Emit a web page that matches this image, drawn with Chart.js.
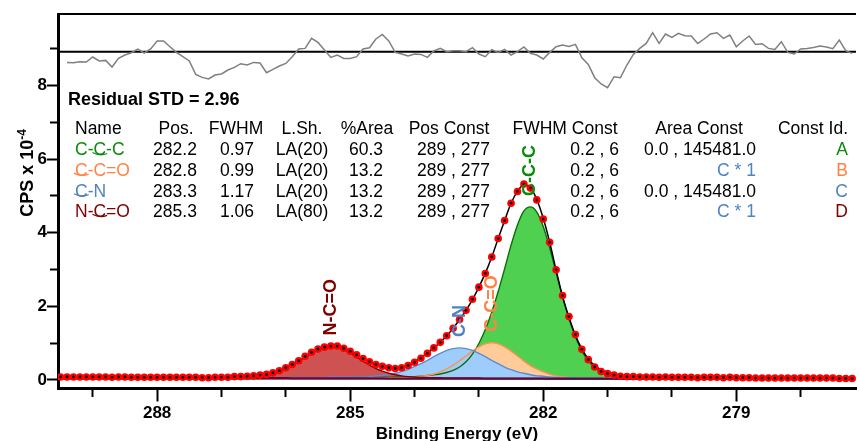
<!DOCTYPE html>
<html>
<head>
<meta charset="utf-8">
<script src="https://cdn.jsdelivr.net/npm/chart.js@4.4.1/dist/chart.umd.min.js"></script>
<style>
  html, body { margin: 0; padding: 0; background: #fff; }
  canvas { display: block; }
</style>
</head>
<body>
<canvas id="xps" width="860" height="441"></canvas>
<script>
// binding energy of every channel, eV
const energy = [
  289.5,289.4,289.3,289.2,289.1,289.0,288.9,288.8,288.7,288.6,
  288.5,288.4,288.3,288.2,288.1,288.0,287.9,287.8,287.7,287.6,
  287.5,287.4,287.3,287.2,287.1,287.0,286.9,286.8,286.7,286.6,
  286.5,286.4,286.3,286.2,286.1,286.0,285.9,285.8,285.7,285.6,
  285.5,285.4,285.3,285.2,285.1,285.0,284.9,284.8,284.7,284.6,
  284.5,284.4,284.3,284.2,284.1,284.0,283.9,283.8,283.7,283.6,
  283.5,283.4,283.3,283.2,283.1,283.0,282.9,282.8,282.7,282.6,
  282.5,282.4,282.3,282.2,282.1,282.0,281.9,281.8,281.7,281.6,
  281.5,281.4,281.3,281.2,281.1,281.0,280.9,280.8,280.7,280.6,
  280.5,280.4,280.3,280.2,280.1,280.0,279.9,279.8,279.7,279.6,
  279.5,279.4,279.3,279.2,279.1,279.0,278.9,278.8,278.7,278.6,
  278.5,278.4,278.3,278.2,278.1,278.0,277.9,277.8,277.7,277.6,
  277.5,277.4,277.3,277.2
];

// CPS x 10^-4
const counts = [
  .08,.08,.08,.08,.08,.08,.08,.08,.07,.08,
  .08,.07,.07,.07,.07,.07,.07,.07,.07,.07,
  .07,.07,.06,.06,.07,.07,.07,.09,.09,.10,
  .11,.13,.15,.19,.25,.33,.42,.52,.64,.75,
  .84,.89,.92,.92,.86,.78,.68,.58,.49,.42,
  .37,.33,.31,.33,.39,.48,.59,.72,.87,1.02,
  1.20,1.40,1.64,1.89,2.19,2.52,2.89,3.34,3.84,4.33,
  4.80,5.12,5.32,5.21,4.89,4.37,3.74,2.99,2.29,1.72,
  1.23,.83,.55,.35,.23,.17,.13,.10,.09,.09,
  .08,.08,.08,.07,.08,.07,.07,.07,.07,.06,
  .07,.07,.07,.06,.07,.06,.06,.06,.05,.05,
  .05,.05,.05,.05,.05,.05,.05,.05,.05,.05,
  .05,.04,.04,.04
];

const envelope = [
  .07,.07,.07,.07,.07,.07,.07,.07,.07,.07,
  .07,.07,.07,.07,.07,.07,.07,.07,.07,.07,
  .07,.08,.08,.08,.08,.08,.08,.09,.09,.10,
  .11,.13,.16,.20,.26,.33,.42,.52,.63,.74,
  .83,.89,.92,.92,.87,.79,.69,.58,.48,.40,
  .35,.32,.31,.34,.40,.49,.60,.73,.87,1.02,
  1.20,1.40,1.64,1.89,2.18,2.52,2.90,3.34,3.84,4.33,
  4.80,5.12,5.30,5.22,4.90,4.39,3.74,2.98,2.27,1.70,
  1.21,.84,.57,.39,.27,.20,.16,.12,.10,.09,
  .08,.07,.07,.07,.07,.07,.06,.06,.06,.06,
  .06,.06,.06,.06,.06,.06,.05,.05,.05,.05,
  .05,.05,.05,.05,.05,.05,.04,.04,.04,.04,
  .04,.04,.04,.04
];

const background = [
  .05,.05,.05,.05,.05,.05,.05,.05,.05,.05,
  .05,.05,.05,.05,.05,.05,.05,.05,.05,.05,
  .05,.05,.05,.05,.05,.05,.05,.05,.05,.05,
  .05,.05,.05,.05,.05,.05,.045,.045,.045,.045,
  .045,.045,.045,.045,.045,.045,.045,.045,.045,.045,
  .045,.04,.04,.04,.04,.04,.04,.04,.04,.04,
  .04,.04,.04,.04,.04,.04,.035,.035,.035,.035,
  .035,.035,.035,.035,.035,.035,.03,.03,.03,.03,
  .03,.03,.03,.03,.03,.03,.03,.03,.03,.03,
  .03,.03,.03,.03,.03,.03,.03,.03,.03,.03,
  .03,.03,.03,.03,.03,.03,.03,.03,.03,.03,
  .03,.03,.03,.03,.03,.03,.03,.03,.03,.03,
  .03,.03,.03,.03
];

const fitCCC = [
  .05,.05,.05,.05,.05,.05,.05,.05,.05,.05,
  .05,.05,.05,.05,.05,.05,.05,.05,.05,.05,
  .05,.05,.05,.05,.05,.05,.05,.05,.05,.05,
  .05,.06,.06,.06,.06,.06,.06,.06,.06,.06,
  .06,.06,.06,.06,.06,.06,.07,.07,.07,.07,
  .07,.07,.08,.08,.09,.09,.10,.12,.14,.16,
  .20,.26,.35,.49,.70,.99,1.37,1.84,2.40,3.02,
  3.66,4.21,4.59,4.70,4.56,4.17,3.59,2.92,2.26,1.67,
  1.17,.79,.52,.34,.22,.16,.12,.09,.08,.07,
  .07,.06,.06,.06,.05,.05,.05,.05,.05,.05,
  .05,.05,.05,.04,.04,.04,.04,.04,.04,.04,
  .04,.04,.04,.04,.04,.04,.03,.03,.03,.03,
  .03,.03,.03,.03
];

const fitCCO = [
  .05,.05,.05,.05,.05,.05,.05,.05,.05,.05,
  .05,.05,.05,.05,.05,.05,.05,.05,.05,.05,
  .05,.05,.05,.05,.05,.05,.05,.05,.05,.05,
  .05,.05,.05,.05,.05,.05,.05,.05,.05,.05,
  .05,.05,.05,.05,.05,.06,.06,.06,.06,.06,
  .06,.06,.06,.06,.07,.08,.10,.12,.16,.22,
  .30,.40,.52,.65,.78,.90,.98,1.01,.98,.90,
  .78,.65,.51,.39,.29,.22,.15,.11,.09,.07,
  .06,.05,.05,.05,.05,.04,.04,.04,.04,.04,
  .04,.04,.04,.04,.04,.04,.04,.04,.04,.04,
  .04,.03,.03,.03,.03,.03,.03,.03,.03,.03,
  .03,.03,.03,.03,.03,.03,.03,.03,.03,.03,
  .03,.03,.03,.03
];

const fitCN = [
  .05,.05,.05,.05,.05,.05,.05,.05,.05,.05,
  .05,.05,.05,.05,.05,.05,.05,.05,.05,.05,
  .05,.05,.05,.05,.05,.05,.05,.06,.06,.06,
  .06,.06,.06,.06,.06,.06,.06,.06,.06,.06,
  .06,.06,.07,.07,.07,.07,.08,.08,.09,.11,
  .12,.15,.18,.23,.29,.36,.44,.53,.63,.72,
  .80,.85,.87,.85,.80,.72,.63,.53,.44,.35,
  .28,.22,.18,.14,.11,.10,.08,.07,.06,.06,
  .06,.05,.05,.05,.05,.04,.04,.04,.04,.04,
  .04,.04,.04,.04,.04,.04,.04,.04,.04,.04,
  .04,.04,.04,.03,.03,.03,.03,.03,.03,.03,
  .03,.03,.03,.03,.03,.03,.03,.03,.03,.03,
  .03,.03,.03,.03
];

const fitNCO = [
  .05,.05,.05,.05,.05,.05,.05,.05,.05,.05,
  .05,.05,.05,.06,.06,.06,.06,.06,.06,.06,
  .06,.06,.06,.06,.06,.07,.07,.07,.08,.09,
  .10,.12,.15,.19,.24,.32,.40,.51,.62,.73,
  .82,.88,.91,.88,.82,.73,.62,.51,.40,.31,
  .24,.18,.14,.11,.09,.08,.07,.06,.06,.06,
  .05,.05,.05,.05,.05,.05,.04,.04,.04,.04,
  .04,.04,.04,.04,.04,.04,.04,.04,.04,.04,
  .04,.04,.04,.04,.04,.04,.03,.03,.03,.03,
  .03,.03,.03,.03,.03,.03,.03,.03,.03,.03,
  .03,.03,.03,.03,.03,.03,.03,.03,.03,.03,
  .03,.03,.03,.03,.03,.03,.03,.03,.03,.03,
  .03,.03,.03,.03
];

// residual trace shown in the top strip
const residual = [
  null,-1.07,-1.1,-1.0,-1.03,-0.53,-0.93,-0.87,-1.53,-0.67,
  -0.33,-0.1,0.27,-0.13,0.27,1.07,1.07,0.5,-0.07,-0.5,
  -0.93,-2.27,-2.57,-2.73,-2.33,-2.23,-1.83,-1.57,-1.2,-1.33,
  -1.07,-1.13,-2.1,-1.77,-1.43,-1.17,-0.5,0.27,0.33,1.33,
  0.93,0.17,-0.57,-0.33,-0.67,-0.67,-0.5,0.27,0.4,1.27,
  1.73,1.07,-0.07,-0.23,-0.43,-0.23,-0.27,-0.57,0.07,0.33,
  0,0.1,0.1,0,0.4,-0.23,-0.5,0.2,-0.07,0.23,
  -0.33,0,0.47,-0.17,-0.33,-0.73,-0.07,0.5,0.67,0.53,
  0.73,-0.6,-1.27,-2.6,-3.23,-3.6,-2.5,-2.6,-1.33,-0.27,
  0.33,0.83,1.9,0.83,1.77,1.43,1.83,1.6,1.57,0.83,
  1.27,1.77,1.9,1.33,1.67,0.5,1.07,1.57,0.73,0.8,
  0.33,0.23,1.0,-0.07,-0.23,0.27,0.33,0.43,0.57,0.47,
  0.3,1.17,0.1,-0.17
];

const xTickLabels = [288, 285, 282, 279];
const yTickLabels = [0, 2, 4, 6, 8];

// peak table
const peakNames = ['C-C-C', 'C-C=O', 'C-N', 'N-C=O'];
const peakPos = ['282.2', '282.8', '283.3', '285.3'];
const peakFwhm = ['0.97', '0.99', '1.17', '1.06'];
const lineShape = ['LA(20)', 'LA(20)', 'LA(20)', 'LA(80)'];
const areaPct = ['60.3', '13.2', '13.2', '13.2'];
const posConst = ['289 , 277', '289 , 277', '289 , 277', '289 , 277'];
const fwhmConst = ['0.2 , 6', '0.2 , 6', '0.2 , 6', '0.2 , 6'];
const areaConst = ['0.0 , 145481.0', 'C * 1', '0.0 , 145481.0', 'C * 1'];
const constId = ['A', 'B', 'C', 'D'];
const residualStd = '2.96';

const fits = [fitCCC, fitCCO, fitCN, fitNCO];
const textColors = ['#0c8a0c', '#ff8444', '#4f83c2', '#800000'];

const FONT = '"Liberation Sans", Arial, sans-serif';
Chart.defaults.font.family = FONT;
Chart.defaults.color = '#000';

const pts = arr => energy.map((e, i) => ({ x: e, y: arr[i] }));
const xMin = 277.14, xMax = 289.54;

const fitSet = (label, arr, line, fillColor) => ({
  label, data: pts(arr), borderColor: line, backgroundColor: fillColor,
  borderWidth: 1.4, pointRadius: 0, fill: 'origin', cubicInterpolationMode: 'monotone'
});

const overlay = {
  id: 'overlay',
  afterDatasetsDraw(chart) {
    const { ctx, chartArea: a, scales: { x, y } } = chart;
    ctx.save();

    // frame on top
    ctx.strokeStyle = '#000';
    ctx.lineWidth = 2;
    ctx.beginPath();
    ctx.moveTo(a.left, a.top);
    ctx.lineTo(a.right, a.top);
    ctx.stroke();

    ctx.textBaseline = 'middle';
    ctx.fillStyle = '#000';
    ctx.font = 'bold 18px ' + FONT;
    ctx.textAlign = 'left';
    ctx.fillText('Residual STD = ' + residualStd, 68, 100);

    // table
    ctx.font = '17.5px ' + FONT;
    const head = [
      ['Name', 75, 'left'], ['Pos.', 176, 'center'], ['FWHM', 236, 'center'],
      ['L.Sh.', 302, 'center'], ['%Area', 367, 'center'], ['Pos Const', 449, 'center'],
      ['FWHM Const', 565, 'center'], ['Area Const', 699, 'center'], ['Const Id.', 813, 'center']
    ];
    head.forEach(([t, hx, al]) => { ctx.textAlign = al; ctx.fillText(t, hx, 129); });

    const markIdx = [2, 0, 0, 2];
    peakNames.forEach((name, r) => {
      const ry = 150.5 + r * 20.6;
      ctx.fillStyle = textColors[r];
      ctx.textAlign = 'left';
      ctx.fillText(name, 75, ry);
      const x0 = 75 + ctx.measureText(name.slice(0, markIdx[r])).width;
      const cw = ctx.measureText(name[markIdx[r]]).width;
      ctx.strokeStyle = textColors[r];
      ctx.lineWidth = 1.3;
      ctx.beginPath();
      ctx.moveTo(x0 - 1, ry + 2);
      ctx.quadraticCurveTo(x0 + cw / 2, ry + 6, x0 + cw + 1, ry + 3);
      ctx.stroke();

      ctx.fillStyle = '#000';
      ctx.textAlign = 'center';
      ctx.fillText(peakPos[r], 175, ry);
      ctx.fillText(peakFwhm[r], 237, ry);
      ctx.fillText(lineShape[r], 302, ry);
      ctx.fillText(areaPct[r], 366, ry);
      ctx.textAlign = 'right';
      ctx.fillText(posConst[r], 490, ry);
      ctx.fillText(fwhmConst[r], 619, ry);
      ctx.fillStyle = areaConst[r].startsWith('C') ? textColors[2] : '#000';
      ctx.fillText(areaConst[r], 756, ry);
      ctx.fillStyle = textColors[r];
      ctx.fillText(constId[r], 848, ry);
    });

    // peak labels above each component
    ctx.font = 'bold 18px ' + FONT;
    ctx.textAlign = 'left';
    peakNames.forEach((name, k) => {
      const px = x.getPixelForValue(parseFloat(peakPos[k]));
      const top = y.getPixelForValue(Math.max(...fits[k]));
      ctx.save();
      ctx.translate(px, top - 11);
      ctx.rotate(-Math.PI / 2);
      ctx.fillStyle = textColors[k];
      ctx.fillText(name, 0, 0);
      ctx.restore();
    });

    // y title with superscript
    ctx.save();
    ctx.translate(33, 173);
    ctx.rotate(-Math.PI / 2);
    ctx.fillStyle = '#000';
    ctx.textBaseline = 'alphabetic';
    ctx.textAlign = 'left';
    ctx.font = 'bold 18px ' + FONT;
    const main = 'CPS x 10';
    const w1 = ctx.measureText(main).width;
    ctx.font = 'bold 12px ' + FONT;
    const w2 = ctx.measureText('-4').width;
    const s = -(w1 + w2) / 2;
    ctx.font = 'bold 18px ' + FONT;
    ctx.fillText(main, s, 0);
    ctx.font = 'bold 12px ' + FONT;
    ctx.fillText('-4', s + w1, -7);
    ctx.restore();

    ctx.restore();
  }
};

new Chart(document.getElementById('xps'), {
  type: 'line',
  data: {
    datasets: [
      { label: 'core', data: pts(counts), showLine: false, pointRadius: 1.4,
        pointBackgroundColor: '#000', pointBorderWidth: 0 },
      { label: 'counts', data: pts(counts), showLine: false, pointRadius: 3.8,
        pointBackgroundColor: '#ff0000', pointBorderWidth: 0 },
      { label: 'envelope', data: pts(envelope), borderColor: '#000', borderWidth: 1.5,
        pointRadius: 0, fill: false, cubicInterpolationMode: 'monotone' },
      { label: 'background', data: pts(background), borderColor: '#4b104b', borderWidth: 2,
        pointRadius: 0, fill: false },
      fitSet('N-C=O', fitNCO, '#800000', '#cf5252'),
      fitSet('C-N', fitCN, '#5a8cd0', '#9fcdfb'),
      fitSet('C-C=O', fitCCO, '#ff9252', '#ffcc99'),
      fitSet('C-C-C', fitCCC, '#0b6e0b', '#50d050'),
      { label: 'residual', data: pts(residual), yAxisID: 'yr', borderColor: '#808080',
        borderWidth: 1.5, pointRadius: 0, fill: false },
      { label: 'zero', data: [{ x: xMax, y: 0 }, { x: xMin, y: 0 }], yAxisID: 'yr',
        borderColor: '#000', borderWidth: 2, pointRadius: 0, fill: false }
    ]
  },
  options: {
    responsive: false,
    devicePixelRatio: 1,
    animation: false,
    events: [],
    layout: { padding: { top: 14, left: 0, right: 0, bottom: 0 } },
    plugins: {
      legend: { display: false },
      tooltip: { enabled: false },
      filler: { drawTime: 'beforeDatasetsDraw' }
    },
    scales: {
      x: {
        type: 'linear', reverse: true, min: xMin, max: xMax, position: 'bottom',
        border: { color: '#000', width: 3 },
        grid: {
          drawOnChartArea: false, tickLength: 13.5, tickWidth: 2, tickColor: '#000',
          tickBorderDash: c => (c.tick && !xTickLabels.includes(c.tick.value)) ? [7, 100] : []
        },
        ticks: {
          stepSize: 1, includeBounds: false, autoSkip: false, maxRotation: 0, padding: 2,
          font: { size: 17, weight: 'bold' }, color: '#000',
          callback: v => xTickLabels.includes(v) ? String(v) : ''
        },
        title: {
          display: true, text: 'Binding Energy (eV)', color: '#000', padding: 0,
          font: { size: 17, weight: 'bold', lineHeight: 0.82 }
        },
        afterFit: s => { s.height = 53; }
      },
      y: {
        type: 'linear', min: -0.22, max: 9.94, position: 'left',
        border: { color: '#000', width: 3 },
        grid: {
          drawOnChartArea: false, tickLength: 11, tickWidth: 2, tickColor: '#000',
          tickBorderDash: c => (c.tick && !yTickLabels.includes(c.tick.value)) ? [20, 3] : [],
          tickBorderDashOffset: c => (c.tick && !yTickLabels.includes(c.tick.value)) ? 20 : 0
        },
        ticks: {
          stepSize: 1, includeBounds: false, autoSkip: false, padding: 0,
          font: { size: 17, weight: 'bold' }, color: '#000',
          callback: v => yTickLabels.includes(v) ? String(v) : ''
        },
        afterFit: s => { s.width = 58; }
      },
      yr: { type: 'linear', display: false, min: -33.63, max: 3.77 }
    }
  },
  plugins: [overlay]
});
</script>
</body>
</html>
